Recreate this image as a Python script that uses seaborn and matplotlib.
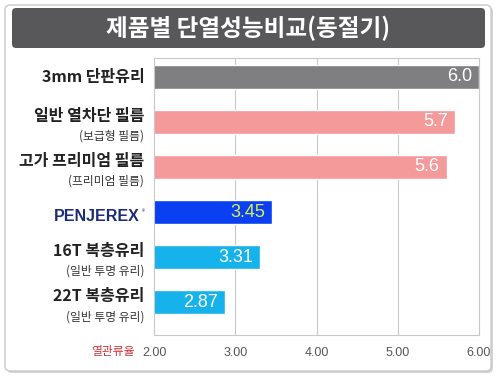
import seaborn as sns
import matplotlib.pyplot as plt
import pandas as pd
from matplotlib.patches import FancyBboxPatch
from matplotlib.transforms import IdentityTransform, blended_transform_factory

# 데이터
products = ['3mm 단판유리', '일반 열차단 필름', '고가 프리미엄 필름', 'PENJEREX', '16T 복층유리', '22T 복층유리']
sub_labels = ['', '(보급형 필름)', '(프리미엄 필름)', '', '(일반 투명 유리)', '(일반 투명 유리)']
u_values = [6.0, 5.7, 5.6, 3.45, 3.31, 2.87]
value_text = ['6.0', '5.7', '5.6', '3.45', '3.31', '2.87']
bar_colors = ['#7f7f81', '#f59a9b', '#f59a9b', '#0a3ff2', '#16b2ec', '#16b2ec']
text_colors = ['white', 'white', 'white', '#d6f04e', 'white', 'white']
x_ticks = [2, 3, 4, 5, 6]

sns.set_theme(style='white')
plt.rcParams['font.family'] = ['Noto Sans CJK KR', 'DejaVu Sans']

fig = plt.figure(figsize=(4.98, 3.76), dpi=100)
ax = fig.add_axes([154 / 498, 1 - 335 / 376, 325 / 498, 277 / 376])

# 카드 배경과 제목 바 (픽셀 좌표)
px = IdentityTransform()
fig.add_artist(FancyBboxPatch((7, 3), 486, 366, boxstyle='round,pad=0,rounding_size=5',
                              transform=px, facecolor='#d4d4d4', edgecolor='none', zorder=-3))
fig.add_artist(FancyBboxPatch((5, 5), 486, 366, boxstyle='round,pad=0,rounding_size=5',
                              transform=px, facecolor='white', edgecolor='#c9c9c9', lw=1, zorder=-2))
fig.add_artist(FancyBboxPatch((12, 376 - 48), 473, 40, boxstyle='round,pad=0,rounding_size=4',
                              transform=px, facecolor='#58585a', edgecolor='none', zorder=-1))
fig.text(248 / 498, 1 - 28 / 376, '제품별 단열성능비교(동절기)', color='white', fontsize=17,
         fontweight='bold', ha='center', va='center')

df = pd.DataFrame({'product': products, 'value': u_values})
sns.barplot(data=df, y='product', x='value', hue='product', palette=bar_colors,
            orient='h', width=0.54, saturation=1, legend=False, ax=ax)

ax.set_xlim(2, 6)
ax.set_ylim(5.73, -0.42)
ax.set_xticks(x_ticks)
ax.set_xticklabels([f'{t:.2f}' for t in x_ticks], color='#555555', fontsize=9,
                   family=['Liberation Sans', 'DejaVu Sans'])
ax.tick_params(axis='x', length=0, pad=9)
ax.set_yticks([])
ax.set_xlabel('')
ax.set_ylabel('')
for x in x_ticks[1:-1]:
    ax.axvline(x, color='#c8c8c8', lw=0.8, zorder=0)
for s in ax.spines.values():
    s.set_color('#c8c8c8')
    s.set_linewidth(0.8)

# 값 라벨
for i, (v, t) in enumerate(zip(u_values, value_text)):
    ax.annotate(t, xy=(v, i), xytext=(-5, 0), textcoords='offset points', ha='right', va='center',
                color=text_colors[i], fontsize=13, family=['Liberation Sans', 'DejaVu Sans'])

# 제품 라벨
tr = blended_transform_factory(ax.transAxes, ax.transData)
for i, (name, sub) in enumerate(zip(products, sub_labels)):
    if name == 'PENJEREX':
        ax.annotate(name, xy=(0, i + 0.1), xycoords=tr, xytext=(-10, 0), textcoords='offset points',
                    ha='right', va='center', color='#1b2d7a', fontsize=11.5, fontweight='bold',
                    family=['Liberation Sans', 'DejaVu Sans'])
        ax.annotate('®', xy=(0, i + 0.0), xycoords=tr, xytext=(-7, 0), textcoords='offset points',
                    ha='right', va='center', color='#1b2d7a', fontsize=4.5)
        continue
    if sub:
        ax.annotate(name, xy=(0, i - 0.14), xycoords=tr, xytext=(-7, 0), textcoords='offset points',
                    ha='right', va='center', color='#222222', fontsize=11.5, fontweight='bold')
        ax.annotate(sub, xy=(0, i + 0.32), xycoords=tr, xytext=(-7, 0), textcoords='offset points',
                    ha='right', va='center', color='#333333', fontsize=8.5)
    else:
        ax.annotate(name, xy=(0, i), xycoords=tr, xytext=(-7, 0), textcoords='offset points',
                    ha='right', va='center', color='#222222', fontsize=11.5, fontweight='bold')

fig.text(135 / 498, 1 - 352 / 376, '열관류율', color='#c8323c', fontsize=8.5, ha='right', va='center')

fig.savefig('out.png', dpi=100, facecolor='white')
